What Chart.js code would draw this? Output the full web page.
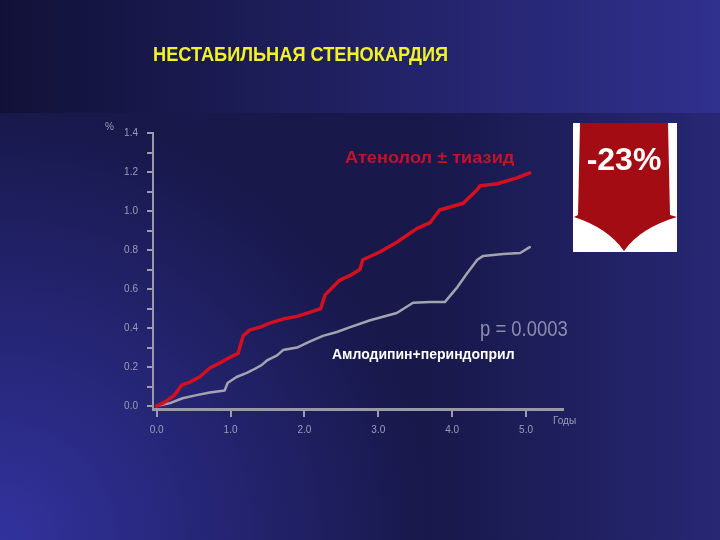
<!DOCTYPE html>
<html>
<head>
<meta charset="utf-8">
<script src="https://cdn.jsdelivr.net/npm/chart.js@4/dist/chart.umd.min.js"></script>
<style>
  html, body { margin: 0; padding: 0; background: #19194e; }
  #wrap { width: 720px; height: 540px; }
</style>
</head>
<body>
<div id="wrap"><canvas id="chart" width="720" height="540"></canvas></div>
<script>
const titleText = 'НЕСТАБИЛЬНАЯ СТЕНОКАРДИЯ';
const redLabel = 'Атенолол ± тиазид';
const grayLabel = 'Амлодипин+периндоприл';
const pValueText = 'p = 0.0003';
const reductionText = '-23%';
const yUnit = '%';
const xUnit = 'Годы';

const xTickValues = [0, 1, 2, 3, 4, 5];
const xTickLabels = ['0.0', '1.0', '2.0', '3.0', '4.0', '5.0'];
const yTickValues = [0, 0.1, 0.2, 0.3, 0.4, 0.5, 0.6, 0.7, 0.8, 0.9, 1.0, 1.1, 1.2, 1.3, 1.4];
const yTickLabels = ['0.0', '', '0.2', '', '0.4', '', '0.6', '', '0.8', '', '1.0', '', '1.2', '', '1.4'];

// Атенолол ± тиазид
const atenololYears = [0, 0.11, 0.24, 0.34, 0.45, 0.58, 0.72, 0.85, 0.99, 1.10, 1.14, 1.17, 1.26, 1.40, 1.53, 1.71, 1.90, 2.07, 2.22, 2.28, 2.37, 2.48, 2.62, 2.75, 2.79, 3.02, 3.25, 3.52, 3.70, 3.83, 4.15, 4.34, 4.38, 4.61, 4.88, 5.05];
const atenololRisk = [0, 0.02, 0.056, 0.108, 0.123, 0.149, 0.195, 0.22, 0.25, 0.27, 0.32, 0.36, 0.39, 0.405, 0.425, 0.446, 0.46, 0.48, 0.50, 0.57, 0.605, 0.646, 0.67, 0.70, 0.75, 0.79, 0.84, 0.91, 0.94, 1.005, 1.04, 1.11, 1.13, 1.14, 1.17, 1.195];

// Амлодипин+периндоприл
const amlodipineYears = [0, 0.18, 0.35, 0.54, 0.72, 0.92, 0.96, 1.08, 1.22, 1.30, 1.42, 1.50, 1.63, 1.71, 1.90, 2.07, 2.25, 2.44, 2.62, 2.89, 3.25, 3.47, 3.70, 3.90, 4.07, 4.20, 4.34, 4.42, 4.69, 4.92, 5.05];
const amlodipineRisk = [0, 0.015, 0.04, 0.056, 0.07, 0.08, 0.118, 0.149, 0.17, 0.185, 0.21, 0.236, 0.26, 0.287, 0.30, 0.33, 0.36, 0.38, 0.405, 0.44, 0.477, 0.53, 0.533, 0.533, 0.61, 0.68, 0.75, 0.77, 0.78, 0.785, 0.815];

const axisGray = '#9c9cb4';
const tickFont = { family: 'Liberation Sans, Arial, sans-serif', size: 10 };

const toPoints = (xs, ys) => xs.map((x, i) => ({ x: x, y: ys[i] }));

// text squeezed horizontally, the slide fonts are a bit narrower than Arial
function condensedText(ctx, text, x, y, squeeze) {
    ctx.save();
    ctx.translate(x, y);
    ctx.scale(squeeze, 1);
    ctx.fillText(text, 0, 0);
    ctx.restore();
}

const backdrop = {
    id: 'backdrop',
    beforeDraw(chart) {
        const { ctx, width, height } = chart;
        ctx.save();
        ctx.fillStyle = '#18184b';
        ctx.fillRect(0, 0, width, height);

        // lighter blue in the lower left corner
        let g = ctx.createRadialGradient(0, height, 0, 0, height, 430);
        g.addColorStop(0, 'rgba(50,50,158,1)');
        g.addColorStop(1, 'rgba(50,50,158,0)');
        ctx.fillStyle = g;
        ctx.fillRect(0, 0, width, height);

        // glow along the right edge
        g = ctx.createLinearGradient(430, 0, width, 0);
        g.addColorStop(0, 'rgba(44,44,130,0)');
        g.addColorStop(1, 'rgba(44,44,130,0.75)');
        ctx.fillStyle = g;
        ctx.fillRect(0, 113, width, height - 113);

        // title band
        g = ctx.createLinearGradient(0, 0, width, 0);
        g.addColorStop(0, '#111138');
        g.addColorStop(1, '#30308e');
        ctx.fillStyle = g;
        ctx.fillRect(0, 0, width, 113);
        ctx.restore();
    }
};

const annotations = {
    id: 'annotations',
    afterDraw(chart) {
        const { ctx } = chart;
        ctx.save();
        ctx.textBaseline = 'middle';
        ctx.textAlign = 'left';

        // title
        ctx.fillStyle = '#f2f226';
        ctx.font = 'bold 20px "Liberation Sans", Arial, sans-serif';
        condensedText(ctx, titleText, 153, 55, 0.91);

        // unit labels
        ctx.fillStyle = axisGray;
        ctx.font = '10px "Liberation Sans", Arial, sans-serif';
        ctx.fillText(yUnit, 105, 127);
        ctx.fillText(xUnit, 553, 421);

        // series labels
        ctx.fillStyle = '#c01428';
        ctx.font = 'bold 17px "Liberation Sans", Arial, sans-serif';
        condensedText(ctx, redLabel, 345, 158, 1.07);

        ctx.fillStyle = '#ffffff';
        ctx.font = 'bold 14px "Liberation Sans", Arial, sans-serif';
        ctx.fillText(grayLabel, 332, 355);

        ctx.fillStyle = '#8c8cac';
        ctx.font = '22px "Liberation Sans", Arial, sans-serif';
        condensedText(ctx, pValueText, 480, 330, 0.84);

        // white box with the red arrow
        ctx.fillStyle = '#ffffff';
        ctx.fillRect(573, 123, 104, 129);
        ctx.fillStyle = '#a30c12';
        ctx.beginPath();
        ctx.moveTo(580, 123);
        ctx.lineTo(668, 123);
        ctx.lineTo(670, 215);
        ctx.lineTo(677, 217);
        ctx.quadraticCurveTo(640, 228, 624, 251);
        ctx.quadraticCurveTo(608, 228, 574, 217);
        ctx.lineTo(578, 215);
        ctx.closePath();
        ctx.fill();

        ctx.fillStyle = '#ffffff';
        ctx.font = 'bold 32px "Liberation Sans", Arial, sans-serif';
        ctx.textAlign = 'center';
        ctx.fillText(reductionText, 624, 161);
        ctx.restore();
    }
};

new Chart(document.getElementById('chart'), {
    type: 'line',
    data: {
        datasets: [
            {
                label: redLabel,
                data: toPoints(atenololYears, atenololRisk),
                borderColor: '#d4101e',
                borderWidth: 3.5,
                pointRadius: 0,
                tension: 0,
                borderJoinStyle: 'round',
                borderCapStyle: 'round'
            },
            {
                label: grayLabel,
                data: toPoints(amlodipineYears, amlodipineRisk),
                borderColor: '#a4a4b0',
                borderWidth: 2.5,
                pointRadius: 0,
                tension: 0,
                borderJoinStyle: 'round',
                borderCapStyle: 'round'
            }
        ]
    },
    options: {
        responsive: false,
        animation: false,
        devicePixelRatio: 1,
        layout: {
            autoPadding: false,
            padding: { top: 133, right: 157, left: 0, bottom: 0 }
        },
        plugins: {
            legend: { display: false },
            tooltip: { enabled: false },
            title: { display: false }
        },
        scales: {
            x: {
                type: 'linear',
                min: -0.05,
                max: 5.5,
                afterBuildTicks: (scale) => {
                    scale.ticks = xTickValues.map(v => ({ value: v }));
                },
                afterFit: (scale) => {
                    scale.height = 131;
                },
                ticks: {
                    autoSkip: false,
                    maxRotation: 0,
                    padding: 7,
                    color: axisGray,
                    font: tickFont,
                    callback: (value, index) => xTickLabels[index]
                },
                grid: {
                    drawOnChartArea: false,
                    drawTicks: true,
                    tickLength: 8,
                    color: axisGray,
                    lineWidth: 2
                },
                border: { color: '#9a9aa6', width: 3 }
            },
            y: {
                min: -0.015,
                max: 1.4,
                afterBuildTicks: (scale) => {
                    scale.ticks = yTickValues.map(v => ({ value: v }));
                },
                afterFit: (scale) => {
                    scale.width = 153;
                },
                ticks: {
                    autoSkip: false,
                    padding: 9,
                    color: axisGray,
                    font: tickFont,
                    callback: (value, index) => yTickLabels[index]
                },
                grid: {
                    drawOnChartArea: false,
                    drawTicks: true,
                    tickLength: 6,
                    color: axisGray,
                    lineWidth: 2
                },
                border: { color: '#9a9aa6', width: 2 }
            }
        }
    },
    plugins: [backdrop, annotations]
});
</script>
</body>
</html>
